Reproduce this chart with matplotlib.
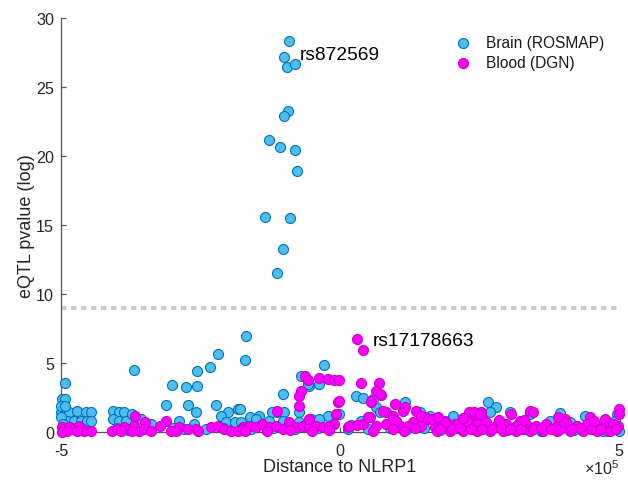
import numpy as np
import matplotlib
matplotlib.use("Agg")
import matplotlib.pyplot as plt

plt.rcParams["font.family"] = ["Liberation Sans", "DejaVu Sans"]
plt.rcParams["mathtext.fontset"] = "custom"
plt.rcParams["mathtext.rm"] = "Liberation Sans"
plt.rcParams["axes.unicode_minus"] = False

# Distance to NLRP1 (units of 1e5 bp) and -log10 eQTL p-value
brain_dist = np.array([
    -0.91, -1.01, -0.95, -0.80, -0.93, -1.00, -1.28, -1.08, -0.80, -0.77, -1.34, -0.90, -1.02, -1.13,
    -4.93, -4.99, -4.92, -3.69, -3.01, -2.76, -2.56, -2.56, -2.33, -2.19, -1.68, -1.71, -3.12, -2.73,
    -2.23, -2.58, -1.83, -2.00, -1.03, -2.88, -2.13, -1.13, -1.00, -0.74, -0.56, -0.70, -0.28, -0.58,
    -0.37, 0.29, 0.41, 0.59, 0.65, 0.71, -1.21, -1.45, -1.62, -0.22, -0.01, 0.14, 0.38, 1.16, 1.13,
    1.43, 1.55, -1.80, -0.52, -0.37, -0.73, -1.03, -1.27, -1.50,
    -5.00, -4.86, -4.71, -4.56, -4.47, -4.89, -4.77, -4.65, -4.53, -4.47, -5.00, -4.93, -4.06, -3.96,
    -3.87, -4.06, -3.96, -3.84, -3.72, -3.57, -3.39, -2.61, -2.04, -1.89, -1.77, -5.00, -4.97,
    2.65, 2.80, 2.68, 3.95, 2.03, 1.61, 3.04, 3.40, 4.39, 4.96, 4.93, 3.76, 4.72, 2.92, 4.12, 2.21,
    -4.80, -4.60, -4.00, -3.80, -3.00, -2.80, -2.40, -2.10, -1.60, -1.20, -0.80, -0.40, 0.20, 0.50,
    0.90, 1.20, 1.50, 1.80, 2.10, 2.40, 2.70, 3.00, 3.30, 3.60, 3.90, 4.20, 4.50, 4.80, 5.00,
])
brain_logp = np.array([
    28.35, 27.24, 26.50, 26.70, 23.27, 22.90, 21.17, 20.66, 20.46, 18.96, 15.62, 15.55, 13.28, 11.54,
    3.55, 2.39, 2.39, 4.52, 3.44, 3.29, 3.36, 4.40, 4.69, 5.66, 6.94, 5.22, 1.98, 1.98,
    1.98, 1.43, 1.67, 1.43, 2.76, 0.82, 1.18, 1.43, 1.43, 1.43, 3.36, 4.09, 4.86, 3.48,
    3.48, 2.59, 2.44, 2.39, 1.79, 1.43, 1.43, 1.18, 1.06, 1.18, 1.31, 0.22, 0.82, 2.15, 1.67,
    1.43, 1.06, 1.67, 0.94, 0.94, 0.70, 0.82, 0.82, 0.94,
    1.43, 1.43, 1.55, 1.43, 1.43, 0.82, 0.82, 0.82, 0.82, 0.82, 1.91, 1.91, 1.55, 1.43,
    1.43, 0.94, 0.82, 0.82, 1.31, 0.94, 0.58, 0.58, 0.70, 0.70, 0.70, 1.10, 0.60,
    2.20, 1.79, 1.43, 1.38, 1.18, 1.18, 1.43, 1.31, 1.18, 1.31, 0.82, 0.82, 0.10, 0.46, 0.70, 0.58,
    0.30, 0.20, 0.30, 0.15, 0.30, 0.20, 0.25, 0.30, 0.20, 0.30, 0.20, 0.30, 0.50, 0.20,
    0.30, 0.20, 0.30, 0.15, 0.30, 0.20, 0.30, 0.15, 0.25, 0.10, 0.30, 0.15, 0.25, 0.10, 0.05,
])

blood_dist = np.array([
    0.31, 0.42,
    -3.67, -3.49, -3.12, -3.22,
    -4.99, -4.95, -4.86, -4.77, -4.68, -4.59, -4.47, -4.98, -4.89, -4.71,
    -4.08, -3.99, -3.87, -3.78, -3.69, -3.60, -3.51, -3.39, -3.93, -3.72,
    -3.03, -2.88, -2.73, -2.58, -2.55, -2.94,
    -2.31, -2.19, -2.07, -1.95, -1.83, -1.74,
    -0.62, -0.58, -0.37, -0.22, -0.10, -0.01, -0.70, -0.74, -0.73, -1.12, -0.04, -0.07, -0.10, 0.14,
    0.38, 0.70, 0.64, 0.74, 0.56, 0.53, 0.41, 0.98, 0.83, 1.13, 1.37, 1.52, 0.95, 0.83, 1.07, 1.31, 1.46,
    -1.74, -1.62, -1.50, -1.39, -1.27, -1.15, -1.03, -0.91, -0.79, -0.67, -0.55, -0.43, -0.31, -0.19, -0.55,
    0.72, 0.55, -0.02, 0.17, 0.50, 0.77, 1.16, 0.95, 1.46, 1.58, 1.22, 1.88, 2.06, 2.29, 2.41, 2.53, 2.56,
    1.70, 1.82, 1.94, 2.12, 2.24, 2.36, 2.47,
    3.40, 3.46, 2.32, 2.41, 2.50, 3.07, 3.22, 4.03, 4.48, 4.75, 5.00, 5.00, 4.99, 1.64,
    1.88, 2.09, 2.27, 2.45, 2.62, 2.80, 2.98, 3.16, 3.34, 3.52, 3.70, 3.88, 4.06, 4.24, 4.42, 4.60, 4.78, 4.90,
    1.73, 1.97, 2.21, 2.45, 2.68, 2.92, 3.16, 3.40, 3.64, 3.88, 4.12, 4.36, 4.60, 4.84,
    1.80, 2.00, 2.15, 2.35, 2.55, 2.72, 2.88, 3.05, 3.25, 3.45, 3.60, 3.78, 3.95, 4.15, 4.30, 4.50, 4.68, 4.95,
    4.00, 3.30, 2.85, 4.55, 3.90, 2.20, 1.00, 1.75, 0.30, 0.65, 1.35, 0.95, 1.15, 0.60, -0.50, -0.90,
    -1.30, -1.70, -0.20,
])
blood_logp = np.array([
    6.75, 5.95,
    1.14, 0.70, 0.82, 0.46,
    0.34, 0.22, 0.34, 0.22, 0.46, 0.10, 0.10, 0.00, 0.10, 0.10,
    0.10, 0.22, 0.34, 0.22, 0.46, 0.10, 0.22, 0.10, 0.10, 0.10,
    0.10, 0.34, 0.22, 0.22, 0.10, 0.10,
    0.34, 0.46, 0.22, 0.10, 0.10, 0.34,
    4.09, 3.80, 3.90, 3.85, 3.80, 3.80, 3.00, 2.59, 1.91, 1.55, 2.20, 1.31, 0.58, 0.34,
    3.56, 3.56, 2.95, 2.69, 2.20, 1.06, 0.58, 2.03, 1.43, 1.55, 1.55, 1.06, 1.18, 0.58, 0.46, 0.70, 0.46,
    0.22, 0.46, 0.34, 0.58, 0.34, 0.46, 0.22, 0.70, 0.34, 0.46, 0.34, 0.46, 0.34, 0.46, 0.94,
    2.76, 2.27, 2.27, 0.41, 1.06, 1.55, 1.79, 0.94, 1.18, 0.94, 0.46, 0.82, 0.58, 0.94, 1.31, 1.43, 0.94,
    0.34, 0.58, 0.34, 0.46, 0.34, 0.46, 0.34,
    1.55, 1.48, 1.43, 1.43, 1.31, 1.31, 0.82, 0.94, 1.06, 0.94, 1.67, 1.31, 0.46, 0.94,
    0.70, 0.58, 0.82, 0.58, 0.70, 0.46, 0.58, 0.46, 0.58, 0.46, 0.58, 0.46, 0.58, 0.46, 0.58, 0.46, 0.34, 0.58,
    0.08, 0.10, 0.07, 0.10, 0.08, 0.10, 0.07, 0.10, 0.08, 0.10, 0.07, 0.10, 0.08, 0.10,
    0.25, 0.20, 0.28, 0.22, 0.25, 0.20, 0.27, 0.22, 0.25, 0.20, 0.28, 0.22, 0.25, 0.20, 0.28, 0.22, 0.25, 0.20,
    0.80, 0.90, 0.90, 0.80, 1.10, 1.00, 0.80, 1.10, 0.50, 0.40, 0.30, 0.20, 0.10, 0.10, 0.10, 0.15,
    0.10, 0.05, 0.15,
])

series_labels = ["Brain (ROSMAP)", "Blood (DGN)"]
threshold = 9.0
snp_labels = ["rs872569", "rs17178663"]
snp_label_pos = [(-0.73, 27.4), (0.58, 6.63)]
x_ticks = [-5, 0, 5]
y_ticks = [0, 5, 10, 15, 20, 25, 30]
xlabel = "Distance to NLRP1"
ylabel = "eQTL pvalue (log)"
x_exponent = 5

scale = 10.0 ** x_exponent
fig = plt.figure(figsize=(6.28, 4.81), dpi=100)
ax = fig.add_axes([0.0971, 0.0998, 0.8886, 0.8597])

ax.axhline(threshold, color="#cccccc", lw=3.0, dashes=(1.3, 1.1),
           dash_capstyle="butt", zorder=2)

ax.scatter(brain_dist * scale, brain_logp, s=52, c="#4DBEEE", edgecolors="#0072BD",
           linewidths=0.8, clip_on=False, zorder=3, label=series_labels[0])
ax.scatter(blood_dist * scale, blood_logp, s=52, c="#FF00FF", edgecolors="#C800C8",
           linewidths=0.8, clip_on=False, zorder=4, label=series_labels[1])

for txt, (tx, ty) in zip(snp_labels, snp_label_pos):
    ax.text(tx * scale, ty, txt, fontsize=13.8, ha="left", va="center", color="black", zorder=5)

ax.set_xlim(-5 * scale, 5 * scale)
ax.set_ylim(0, 30)
ax.set_xticks([v * scale for v in x_ticks])
ax.set_xticklabels([str(v) for v in x_ticks])
ax.set_yticks(y_ticks)

# exponent multiplier shown under the right end of the x axis
ax.text(1.0, -0.086, r"$\times\mathdefault{10^{%d}}$" % x_exponent, transform=ax.transAxes,
        ha="right", va="center", fontsize=11.6, color="#262626")

for side in ("top", "right"):
    ax.spines[side].set_visible(False)
for side in ("left", "bottom"):
    ax.spines[side].set_color("#555555")
    ax.spines[side].set_linewidth(0.9)
    ax.spines[side].set_zorder(2.5)

ax.tick_params(direction="in", length=3.8, width=0.9, color="#555555",
               labelsize=11.6, labelcolor="#262626")
ax.tick_params(axis="x", pad=8)
ax.tick_params(axis="y", pad=5)

ax.set_xlabel(xlabel, fontsize=13, color="#262626", labelpad=0)
ax.set_ylabel(ylabel, fontsize=13, color="#262626", labelpad=1)

leg = ax.legend(loc="upper left", bbox_to_anchor=(0.7248, 0.925),
                bbox_transform=fig.transFigure, frameon=False, fontsize=11.2,
                handlelength=1.0, handletextpad=1.0, labelspacing=0.3,
                borderpad=0, borderaxespad=0, scatterpoints=1)
for t in leg.get_texts():
    t.set_color("#1a1a1a")

fig.savefig("out.png", dpi=100)
